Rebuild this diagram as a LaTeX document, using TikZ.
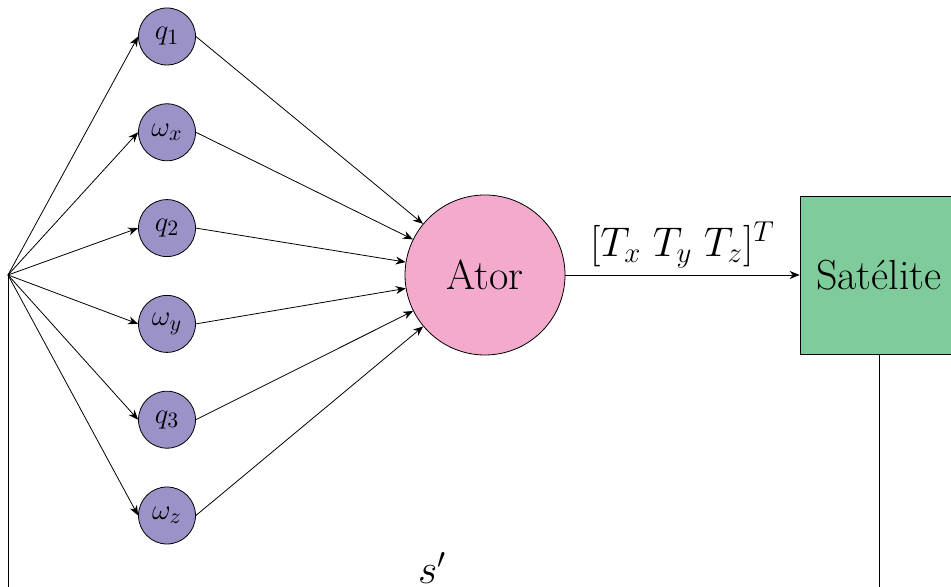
\documentclass[tikz,border=0pt]{standalone}
\usepackage{fontspec}
\usepackage{amsmath}
\usetikzlibrary{arrows.meta,positioning}
\definecolor{statepurple}{RGB}{155,147,200}
\definecolor{atorpink}  {RGB}{244,170,204}
\definecolor{satgreen}  {RGB}{128,203,155}

\begin{document}
\begin{tikzpicture}[x=1pt, y=1pt, node distance=19pt,
  statenode/.style={circle, draw, fill=statepurple, minimum size=28.5pt,
                    inner sep=0pt, font=\fontsize{15.5}{18}\selectfont},
  atornode/.style={circle, draw, fill=atorpink, minimum size=80pt,
                   inner sep=0pt, font=\fontsize{21}{25}\selectfont},
  satnode/.style={draw, fill=satgreen, minimum size=79pt,
                  inner sep=0pt, font=\fontsize{21}{25}\selectfont},
  bigtxt/.style={font=\fontsize{21}{25}\selectfont},
  arr/.style={-{Stealth[length=5pt,width=4pt]}},
]
  \useasboundingbox (0,0) rectangle (475.5,293.5);

  \coordinate (hub) at (4,156);

  %% state inputs
  \node[statenode] (q1) at (83.5,275.25) {$q_1$};
  \node[statenode, below=of q1] (wx) {$\omega_x$};
  \node[statenode, below=of wx] (q2) {$q_2$};
  \node[statenode, below=of q2] (wy) {$\omega_y$};
  \node[statenode, below=of wy] (q3) {$q_3$};
  \node[statenode, below=of q3] (wz) {$\omega_z$};

  \node[atornode] (ator) at (242.5,156) {Ator};
  \node[satnode] (sat) at (439.5,156) {Satélite};

  %% feedback corners
  \coordinate (fbR) at (sat.south |- 0,-2);
  \coordinate (fbL) at (hub |- 0,-2);

  \draw[arr] (hub) -- (q1.west);
  \draw[arr] (hub) -- (wx.west);
  \draw[arr] (hub) -- (q2.west);
  \draw[arr] (hub) -- (wy.west);
  \draw[arr] (hub) -- (q3.west);
  \draw[arr] (hub) -- (wz.west);

  \draw[arr] (q1.east) -- (ator);
  \draw[arr] (wx.east) -- (ator);
  \draw[arr] (q2.east) -- (ator);
  \draw[arr] (wy.east) -- (ator);
  \draw[arr] (q3.east) -- (ator);
  \draw[arr] (wz.east) -- (ator);

  \draw[arr] (ator) -- (sat)
        node[midway, above, bigtxt] {$[T_x\;T_y\;T_z]^T$};
  \draw (sat.south) -- (fbR) -- (fbL)
        node[pos=0.513, above, bigtxt] {$s'$} -- (hub);
\end{tikzpicture}
\end{document}
